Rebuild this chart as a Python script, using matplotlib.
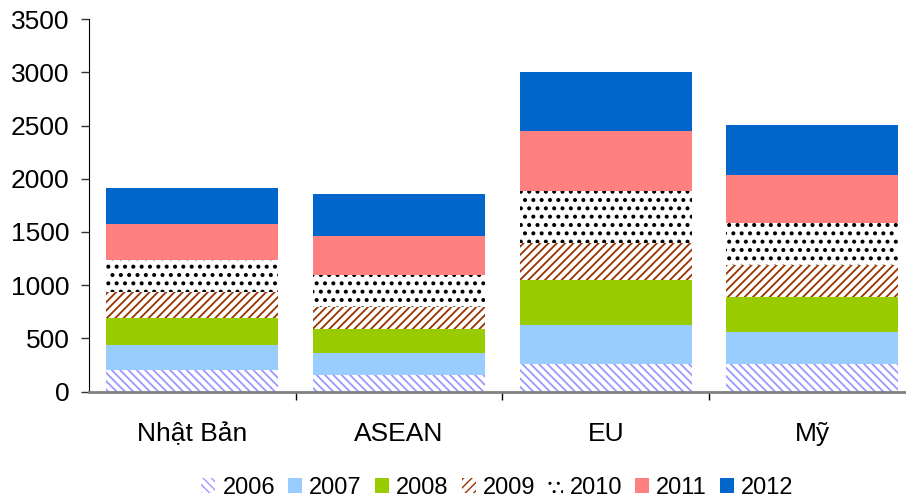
import matplotlib
matplotlib.use("Agg")
import matplotlib.pyplot as plt
import numpy as np

plt.rcParams['font.family'] = ['Liberation Sans', 'DejaVu Sans']

categories = ["Nhật Bản", "ASEAN", "EU", "Mỹ"]
years = ["2006", "2007", "2008", "2009", "2010", "2011", "2012"]
v2006 = [206, 159, 262, 262]
v2007 = [234, 206, 365, 299]
v2008 = [255, 225, 421, 331]
v2009 = [238, 208, 343, 299]
v2010 = [302, 297, 490, 393]
v2011 = [340, 368, 571, 447]
v2012 = [334, 390, 552, 477]
series = [v2006, v2007, v2008, v2009, v2010, v2011, v2012]
yticks = [0, 500, 1000, 1500, 2000, 2500, 3000, 3500]

styles = [
    dict(color='white', edgecolor='#9999FF', hatch='\\\\\\\\'),
    dict(color='#99CCFF', edgecolor='none'),
    dict(color='#99CC00', edgecolor='none'),
    dict(color='white', edgecolor='#993300', hatch='////'),
    dict(color='white', edgecolor='black', hatch='..'),
    dict(color='#FF8080', edgecolor='none'),
    dict(color='#0066CC', edgecolor='none'),
]

fig = plt.figure(figsize=(9.06, 4.99), dpi=100)
W, H = 906, 499
ax = fig.add_axes([89 / W, 107.5 / H, 826.8 / W, 372.4 / H])

x = np.arange(len(categories))
bottom = np.zeros(len(categories))
for yr, vals, st in zip(years, series, styles):
    lw = 1.7 if st.get('hatch') == '..' else 1.3
    with plt.rc_context({'hatch.linewidth': lw}):
        ax.bar(x, vals, width=0.832, bottom=bottom, label=yr, linewidth=0, **st)
    bottom += np.array(vals)

ax.set_xlim(-0.5, 3.5)
ax.set_ylim(0, 3500)
ax.set_yticks(yticks)
ax.set_yticklabels([str(t) for t in yticks])
ax.set_xticks(x)
ax.set_xticklabels(categories)
ax.tick_params(axis='x', length=0, pad=22, labelsize=19)
ax.set_xticks([0.5, 1.5, 2.5], minor=True)
ax.tick_params(axis='x', which='minor', length=6, width=1, color='black')
ax.tick_params(axis='y', length=6, width=1, pad=8, labelsize=19, color='#333333')

for s in ['top', 'right']:
    ax.spines[s].set_visible(False)
ax.spines['left'].set_color('black')
ax.spines['bottom'].set_color('#808080')
ax.spines['bottom'].set_linewidth(2)

handles, labels = ax.get_legend_handles_labels()
fig.legend(handles, labels, loc='center', bbox_to_anchor=(497.5 / W, 11 / H),
           ncol=7, frameon=False, fontsize=17, handlelength=0.6, handleheight=0.6,
           handletextpad=0.3, columnspacing=0.55, borderaxespad=0, borderpad=0)

fig.savefig('out.png', dpi=100)
